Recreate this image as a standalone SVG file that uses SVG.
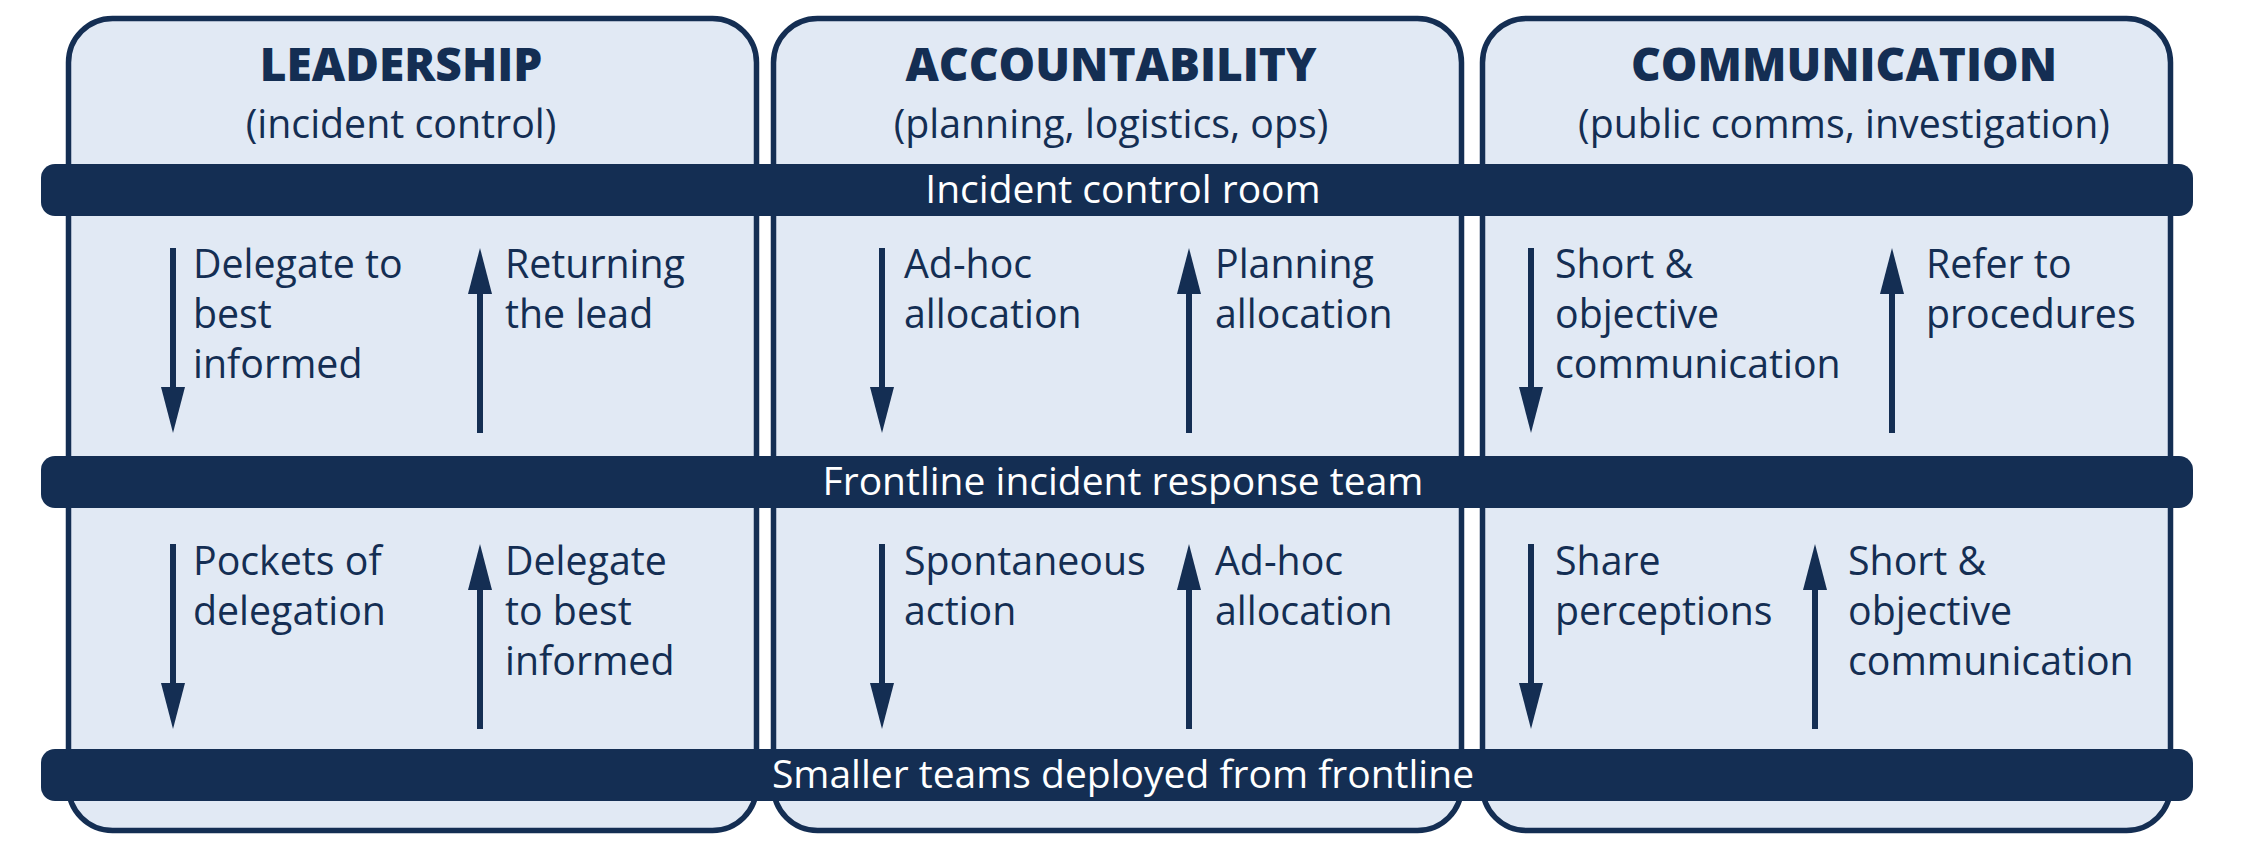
<svg xmlns="http://www.w3.org/2000/svg" width="2245" height="854" viewBox="0 0 2245 854">
<defs>
<style>
.panel{fill:#e1e9f4;stroke:#142e53;stroke-width:5.5}
.bar{fill:#142e53}
.hd{font-family:"Open Sans","Liberation Sans",sans-serif;font-weight:800;font-size:46px;fill:#142e53;text-anchor:middle}
.sub{font-family:"Open Sans","Liberation Sans",sans-serif;font-size:39.3px;fill:#142e53;text-anchor:middle}
.bt{font-family:"Open Sans","Liberation Sans",sans-serif;font-size:39px;fill:#ffffff;text-anchor:middle}
.lb{font-family:"Open Sans","Liberation Sans",sans-serif;font-size:39.3px;fill:#142e53}
.ar{stroke:#142e53;stroke-width:6;fill:none;marker-end:url(#head)}
</style>
<marker id="head" markerUnits="userSpaceOnUse" markerWidth="46" markerHeight="24" viewBox="0 -12 46 24" refX="0" refY="0" orient="auto">
<path d="M0,-12 L46,0 L0,12 Z" fill="#142e53"/>
</marker>
</defs>
<rect width="2245" height="854" fill="#ffffff"/>
<g id="panel-leadership">
<rect class="panel" x="68.5" y="18.5" width="688" height="812" rx="44"/>
<text class="hd" x="401" y="81">LEADERSHIP</text>
<text class="sub" x="401" y="137.5">(incident control)</text>
</g>
<g id="panel-accountability">
<rect class="panel" x="773.5" y="18.5" width="688" height="812" rx="44"/>
<text class="hd" x="1111" y="81">ACCOUNTABILITY</text>
<text class="sub" x="1111" y="137.5">(planning, logistics, ops)</text>
</g>
<g id="panel-communication">
<rect class="panel" x="1482.5" y="18.5" width="688" height="812" rx="44"/>
<text class="hd" x="1844" y="81">COMMUNICATION</text>
<text class="sub" x="1844" y="137.5">(public comms, investigation)</text>
</g>
<g id="bar-control-room">
<rect class="bar" x="41" y="164" width="2152" height="52" rx="14"/>
<text class="bt" x="1123" y="203">Incident control room</text>
</g>
<g id="bar-frontline">
<rect class="bar" x="41" y="456" width="2152" height="52" rx="14"/>
<text class="bt" x="1123" y="495">Frontline incident response team</text>
</g>
<g id="bar-smaller-teams">
<rect class="bar" x="41" y="749" width="2152" height="52" rx="14"/>
<text class="bt" x="1123" y="788">Smaller teams deployed from frontline</text>
</g>
<g id="connectors">
<line class="ar" x1="173" y1="248" x2="173" y2="387"/>
<line class="ar" x1="480" y1="433" x2="480" y2="294"/>
<line class="ar" x1="173" y1="544" x2="173" y2="683"/>
<line class="ar" x1="480" y1="729" x2="480" y2="590"/>
<line class="ar" x1="882" y1="248" x2="882" y2="387"/>
<line class="ar" x1="1189" y1="433" x2="1189" y2="294"/>
<line class="ar" x1="882" y1="544" x2="882" y2="683"/>
<line class="ar" x1="1189" y1="729" x2="1189" y2="590"/>
<line class="ar" x1="1531" y1="248" x2="1531" y2="387"/>
<line class="ar" x1="1892" y1="433" x2="1892" y2="294"/>
<line class="ar" x1="1531" y1="544" x2="1531" y2="683"/>
<line class="ar" x1="1815" y1="729" x2="1815" y2="590"/>
</g>
<g id="labels-leadership">
<text class="lb" x="193" y="278">Delegate to</text>
<text class="lb" x="193" y="328">best</text>
<text class="lb" x="193" y="378">informed</text>
<text class="lb" x="505" y="278">Returning</text>
<text class="lb" x="505" y="328">the lead</text>
<text class="lb" x="193" y="575">Pockets of</text>
<text class="lb" x="193" y="625">delegation</text>
<text class="lb" x="505" y="575">Delegate</text>
<text class="lb" x="505" y="625">to best</text>
<text class="lb" x="505" y="675">informed</text>
</g>
<g id="labels-accountability">
<text class="lb" x="904" y="278">Ad-hoc</text>
<text class="lb" x="904" y="328">allocation</text>
<text class="lb" x="1215" y="278">Planning</text>
<text class="lb" x="1215" y="328">allocation</text>
<text class="lb" x="904" y="575">Spontaneous</text>
<text class="lb" x="904" y="625">action</text>
<text class="lb" x="1215" y="575">Ad-hoc</text>
<text class="lb" x="1215" y="625">allocation</text>
</g>
<g id="labels-communication">
<text class="lb" x="1555" y="278">Short &amp;</text>
<text class="lb" x="1555" y="328">objective</text>
<text class="lb" x="1555" y="378">communication</text>
<text class="lb" x="1926" y="278">Refer to</text>
<text class="lb" x="1926" y="328">procedures</text>
<text class="lb" x="1555" y="575">Share</text>
<text class="lb" x="1555" y="625">perceptions</text>
<text class="lb" x="1848" y="575">Short &amp;</text>
<text class="lb" x="1848" y="625">objective</text>
<text class="lb" x="1848" y="675">communication</text>
</g>
</svg>
